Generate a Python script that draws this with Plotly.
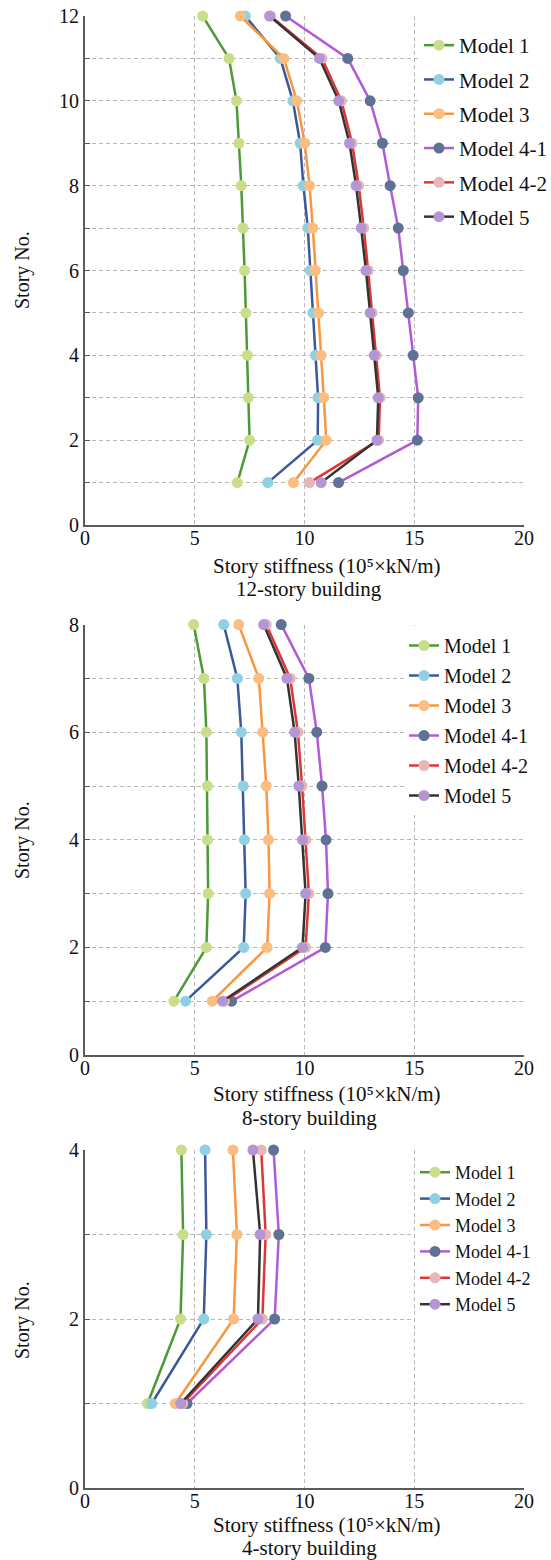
import plotly.graph_objects as go

models = ["Model 1", "Model 2", "Model 3", "Model 4-1", "Model 4-2", "Model 5"]
line_colors = ["#4c9a36", "#3c5898", "#f7973f", "#b25bd6", "#e03535", "#333333"]
marker_colors = ["#c9dd8b", "#8fd0e2", "#fcbd83", "#5f7294", "#e8b7b5", "#b596d4"]

# 12-story building, stories 1..12
stories_12 = [1, 2, 3, 4, 5, 6, 7, 8, 9, 10, 11, 12]
k12_model1 = [6.94, 7.50, 7.44, 7.40, 7.33, 7.27, 7.20, 7.12, 7.01, 6.90, 6.56, 5.36]
k12_model2 = [8.33, 10.60, 10.62, 10.50, 10.38, 10.26, 10.15, 9.95, 9.80, 9.47, 8.90, 7.30]
k12_model3 = [9.50, 10.99, 10.88, 10.76, 10.64, 10.49, 10.38, 10.23, 10.01, 9.65, 9.06, 7.08]
k12_model41 = [11.55, 15.14, 15.18, 14.95, 14.73, 14.50, 14.27, 13.90, 13.55, 12.99, 11.97, 9.14]
k12_model42 = [10.23, 13.38, 13.44, 13.27, 13.08, 12.90, 12.70, 12.47, 12.17, 11.68, 10.80, 8.45]
k12_model5 = [10.76, 13.30, 13.36, 13.18, 12.99, 12.80, 12.58, 12.35, 12.05, 11.56, 10.68, 8.41]

# 8-story building, stories 1..8
stories_8 = [1, 2, 3, 4, 5, 6, 7, 8]
k8_model1 = [4.05, 5.53, 5.61, 5.58, 5.58, 5.53, 5.42, 4.95]
k8_model2 = [4.58, 7.23, 7.32, 7.26, 7.21, 7.12, 6.94, 6.32]
k8_model3 = [5.80, 8.30, 8.41, 8.36, 8.26, 8.10, 7.92, 7.00]
k8_model41 = [6.68, 10.95, 11.07, 10.98, 10.80, 10.56, 10.20, 8.94]
k8_model42 = [6.35, 10.05, 10.20, 10.06, 9.89, 9.70, 9.35, 8.26]
k8_model5 = [6.26, 9.91, 10.05, 9.91, 9.74, 9.55, 9.20, 8.14]

# 4-story building, stories 1..4
stories_4 = [1, 2, 3, 4]
k4_model1 = [2.85, 4.35, 4.47, 4.39]
k4_model2 = [3.04, 5.41, 5.53, 5.47]
k4_model3 = [4.12, 6.77, 6.92, 6.74]
k4_model41 = [4.65, 8.64, 8.83, 8.59]
k4_model42 = [4.45, 8.08, 8.23, 8.03]
k4_model5 = [4.36, 7.88, 7.98, 7.65]

x_ticks = [0, 5, 10, 15, 20]
x_title = "Story stiffness (10⁵×kN/m)"
y_title = "Story No."
panel_titles = ["12-story building", "8-story building", "4-story building"]

panels = [
    (stories_12, [k12_model1, k12_model2, k12_model3, k12_model41, k12_model42, k12_model5], 12),
    (stories_8, [k8_model1, k8_model2, k8_model3, k8_model41, k8_model42, k8_model5], 8),
    (stories_4, [k4_model1, k4_model2, k4_model3, k4_model41, k4_model42, k4_model5], 4),
]

FONT = "Liberation Serif, Times New Roman, serif"
W, H = 551, 1560
ML, MR, MT, MB = 85, 27, 16, 70
PH = H - MT - MB
PW = W - ML - MR

def py(pix):
    return (H - MB - pix) / PH

def px(pix):
    return (pix - ML) / PW

domains = [[py(525), 1.0], [py(1055), py(624.6)], [py(1488), py(1150)]]
legend_font = [21, 20, 18]
legend_gap = [4, 1, 0]
legend_pos = [(px(419), py(25)), (px(404), py(626)), (px(415), py(1154))]

fig = go.Figure()
for p, (stories, series, top) in enumerate(panels):
    suffix = "" if p == 0 else str(p + 1)
    for i, name in enumerate(models):
        fig.add_trace(go.Scatter(
            x=series[i], y=stories, mode="lines+markers", name=name,
            xaxis="x" + suffix, yaxis="y" + suffix,
            legend="legend" + suffix,
            legendgroup=f"p{p}_{i}",
            line=dict(color=line_colors[i], width=2.5),
            marker=dict(color=marker_colors[i], size=11),
            cliponaxis=False,
        ))

grid = dict(showgrid=True, gridcolor="#b8b8b8", gridwidth=1, griddash="4px,3px")
layout = dict(
    width=W, height=H,
    margin=dict(l=ML, r=MR, t=MT, b=MB, autoexpand=False),
    paper_bgcolor="white", plot_bgcolor="white", showlegend=True,
    font=dict(family=FONT, color="#111111", size=20),
)
annotations = []
title_y = [(566, 589), (1094, 1118), (1525, 1548)]
ytitle_y = [270, 840, 1320]
for p, (stories, series, top) in enumerate(panels):
    suffix = "" if p == 0 else str(p + 1)
    layout["xaxis" + suffix] = dict(
        domain=[0, 1], anchor="y" + suffix, range=[0, 20], tickvals=x_ticks,
        showline=True, linecolor="#5a5a5a", linewidth=2, zeroline=False,
        ticks="", tickfont=dict(family=FONT, size=20, color="#111111"),
        ticklabelstandoff=-6,
        automargin=False,
        **grid,
    )
    layout["yaxis" + suffix] = dict(
        domain=domains[p], anchor="x" + suffix, range=[0, top], dtick=2, tick0=0,
        showline=True, linecolor="#5a5a5a", linewidth=2, zeroline=False,
        ticks="inside", ticklen=5, tickcolor="#5a5a5a",
        tickfont=dict(family=FONT, size=20, color="#111111"),
        automargin=False,
        minor=dict(dtick=1, showgrid=True, gridcolor="#b8b8b8", griddash="4px,3px",
                   ticks="inside", ticklen=5, tickcolor="#5a5a5a"),
        **grid,
    )
    lx, ly = legend_pos[p]
    layout["legend" + suffix] = dict(
        x=lx, y=ly, xanchor="left", yanchor="top", bgcolor="white",
        borderwidth=0, font=dict(family=FONT, size=legend_font[p], color="#111111"),
        tracegroupgap=legend_gap[p], traceorder="grouped", itemwidth=30,
    )
    annotations.append(dict(text=x_title, x=px(327), y=py(title_y[p][0]),
                            xref="paper", yref="paper", showarrow=False,
                            xanchor="center", yanchor="middle",
                            font=dict(family=FONT, size=21, color="#111111")))
    annotations.append(dict(text=panel_titles[p], x=px(309), y=py(title_y[p][1]),
                            xref="paper", yref="paper", showarrow=False,
                            xanchor="center", yanchor="middle",
                            font=dict(family=FONT, size=21, color="#111111")))
    annotations.append(dict(text=y_title, x=px(22), y=py(ytitle_y[p]),
                            xref="paper", yref="paper", showarrow=False, textangle=-90,
                            xanchor="center", yanchor="middle",
                            font=dict(family=FONT, size=20, color="#111111")))
layout["annotations"] = annotations
fig.update_layout(**layout)
fig.write_html("out.html")
